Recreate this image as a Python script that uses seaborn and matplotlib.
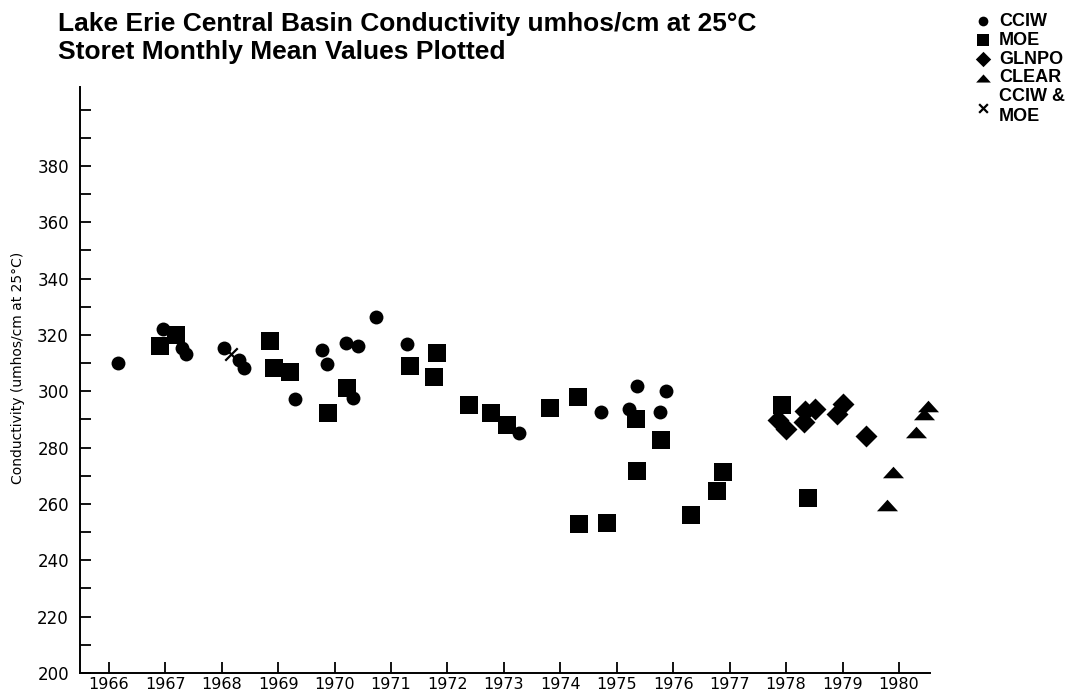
import matplotlib
matplotlib.use("Agg")
import matplotlib.pyplot as plt
import seaborn as sns
import pandas as pd

# values (year, conductivity)
cciw_year = [1966.17, 1966.96, 1967.30, 1967.36, 1968.04, 1968.30, 1968.40, 1969.30,
             1969.77, 1969.86, 1970.21, 1970.42, 1970.32, 1970.73, 1971.28, 1973.27,
             1974.72, 1975.22, 1975.36, 1975.76, 1975.88]
cciw_value = [310.0, 322.1, 315.4, 313.3, 315.5, 311.0, 308.3, 297.2,
              314.7, 309.6, 317.3, 316.0, 297.6, 326.2, 316.7, 285.3,
              292.5, 293.6, 302.0, 292.8, 300.0]

moe_year = [1966.91, 1967.19, 1968.85, 1968.93, 1969.21, 1969.88, 1970.22, 1971.33,
            1971.82, 1971.76, 1972.38, 1972.78, 1973.06, 1973.81, 1974.32, 1974.33,
            1974.82, 1975.34, 1975.35, 1975.79, 1976.31, 1976.78, 1976.89, 1977.92,
            1978.38]
moe_value = [316.0, 319.9, 317.8, 308.1, 306.7, 292.3, 301.1, 308.8,
             313.5, 305.0, 295.0, 292.3, 288.2, 294.1, 297.9, 252.9,
             253.3, 290.0, 271.8, 282.7, 256.0, 264.5, 271.2, 295.1,
             262.1]

glnpo_year = [1977.85, 1977.99, 1978.34, 1978.31, 1978.52, 1979.01, 1978.91, 1979.42]
glnpo_value = [289.8, 286.6, 293.1, 289.0, 293.6, 295.6, 292.0, 284.3]

clear_year = [1979.78, 1979.90, 1980.30, 1980.45, 1980.51]
clear_value = [259.7, 271.4, 285.5, 291.9, 294.8]

both_year = [1968.16]
both_value = [313.1]

year_ticks = list(range(1966, 1981))
year_labels = [str(y) for y in year_ticks]
cond_ticks = list(range(200, 401, 10))
cond_labels = [str(v) if v % 20 == 0 and v <= 380 else "" for v in cond_ticks]

sns.set_style("ticks")
plt.rcParams["font.family"] = ["DejaVu Sans"]
plt.rcParams["text.color"] = "black"
plt.rcParams["axes.labelcolor"] = "black"

fig = plt.figure(figsize=(10.8, 7), dpi=100)
ax = fig.add_axes([80 / 1080, 27 / 700, 850 / 1080, 586 / 700])

flat_tri = [(-1, -0.55), (1, -0.55), (0, 0.55)]
series = [
    ("CCIW", cciw_year, cciw_value, "o", 100),
    ("MOE", moe_year, moe_value, "s", 150),
    ("GLNPO", glnpo_year, glnpo_value, "D", 125),
    ("CLEAR", clear_year, clear_value, flat_tri, 230),
]
for name, xs, ys, mk, size in series:
    df = pd.DataFrame({"year": xs, "cond": ys})
    sns.scatterplot(data=df, x="year", y="cond", marker=mk, s=size, color="black",
                    edgecolor="black", linewidth=0, label=name, ax=ax, clip_on=False)

df_both = pd.DataFrame({"year": both_year, "cond": both_value})
sns.scatterplot(data=df_both, x="year", y="cond", marker="x", s=80, color="black",
                linewidth=1.6, label="CCIW &\nMOE", ax=ax, clip_on=False)

ax.set_xlim(1965.49, 1980.55)
ax.set_ylim(200, 408)
ax.set_xticks(year_ticks)
ax.set_xticklabels(year_labels)
ax.set_yticks(cond_ticks)
ax.set_yticklabels(cond_labels)
ax.tick_params(axis="both", direction="in", length=8, width=1.3, color="black",
               labelsize=12, labelcolor="black")
ax.tick_params(axis="y", pad=8)
ax.tick_params(axis="x", pad=3, labelsize=11.5)
for side in ["top", "right"]:
    ax.spines[side].set_visible(False)
for side in ["left", "bottom"]:
    ax.spines[side].set_linewidth(1.4)
    ax.spines[side].set_color("black")

ax.set_xlabel("")
ax.set_ylabel("Conductivity (umhos/cm at 25°C)", fontsize=10, color="black")
ax.yaxis.set_label_coords(-0.065, 0.52)

fig.text(58 / 1080, 1 - 31 / 700, "Lake Erie Central Basin Conductivity umhos/cm at 25°C",
         fontsize=19, fontweight="bold", color="black",
         family=["Liberation Sans", "DejaVu Sans"])
fig.text(58 / 1080, 1 - 59 / 700, "Storet Monthly Mean Values Plotted",
         fontsize=19, fontweight="bold", color="black",
         family=["Liberation Sans", "DejaVu Sans"])

handles, labels = ax.get_legend_handles_labels()
ax.legend_.remove()
leg = fig.legend(handles, labels, loc="upper right", bbox_to_anchor=(1074 / 1080, 1 - 4 / 700),
                 frameon=False, handlelength=1.0, handletextpad=0.4, borderpad=0,
                 labelspacing=0.1, markerscale=0.7,
                 prop={"family": ["Liberation Sans", "DejaVu Sans"], "weight": "bold", "size": 13})
for t in leg.get_texts():
    t.set_color("black")

fig.savefig("out.png", dpi=100)
plt.close(fig)
